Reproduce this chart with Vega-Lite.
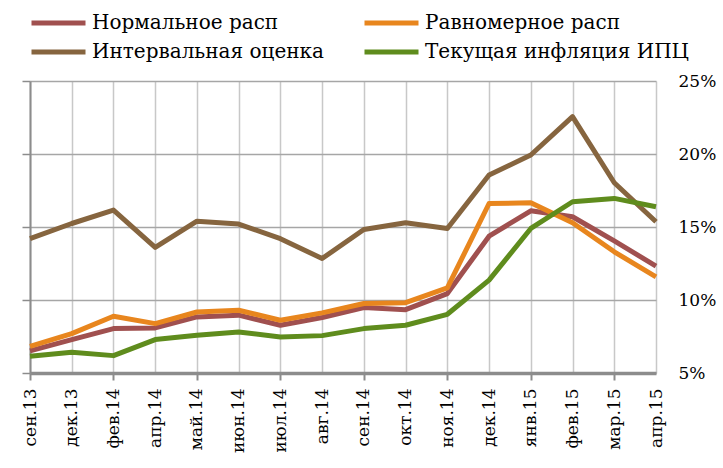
{
  "$schema": "https://vega.github.io/schema/vega-lite/v6.json",
  "width": 626,
  "height": 292,
  "autosize": "none",
  "padding": {"left": 30, "top": 81, "right": 67, "bottom": 95},
  "background": "white",
  "config": {"view": {"stroke": null}, "font": "DejaVu Serif"},
  "data": {"values": [
    {"month": "сен.13", "series": "Нормальное расп", "value": 6.51},
    {"month": "дек.13", "series": "Нормальное расп", "value": 7.29},
    {"month": "фев.14", "series": "Нормальное расп", "value": 8.04},
    {"month": "апр.14", "series": "Нормальное расп", "value": 8.09},
    {"month": "май.14", "series": "Нормальное расп", "value": 8.84},
    {"month": "июн.14", "series": "Нормальное расп", "value": 8.96},
    {"month": "июл.14", "series": "Нормальное расп", "value": 8.27},
    {"month": "авг.14", "series": "Нормальное расп", "value": 8.8},
    {"month": "сен.14", "series": "Нормальное расп", "value": 9.48},
    {"month": "окт.14", "series": "Нормальное расп", "value": 9.34},
    {"month": "ноя.14", "series": "Нормальное расп", "value": 10.44},
    {"month": "дек.14", "series": "Нормальное расп", "value": 14.37},
    {"month": "янв.15", "series": "Нормальное расп", "value": 16.11},
    {"month": "фев.15", "series": "Нормальное расп", "value": 15.7},
    {"month": "мар.15", "series": "Нормальное расп", "value": 14.05},
    {"month": "апр.15", "series": "Нормальное расп", "value": 12.32},
    {"month": "сен.13", "series": "Равномерное расп", "value": 6.83},
    {"month": "дек.13", "series": "Равномерное расп", "value": 7.7},
    {"month": "фев.14", "series": "Равномерное расп", "value": 8.89},
    {"month": "апр.14", "series": "Равномерное расп", "value": 8.38},
    {"month": "май.14", "series": "Равномерное расп", "value": 9.18},
    {"month": "июн.14", "series": "Равномерное расп", "value": 9.3},
    {"month": "июл.14", "series": "Равномерное расп", "value": 8.61},
    {"month": "авг.14", "series": "Равномерное расп", "value": 9.12},
    {"month": "сен.14", "series": "Равномерное расп", "value": 9.76},
    {"month": "окт.14", "series": "Равномерное расп", "value": 9.82},
    {"month": "ноя.14", "series": "Равномерное расп", "value": 10.83},
    {"month": "дек.14", "series": "Равномерное расп", "value": 16.61},
    {"month": "янв.15", "series": "Равномерное расп", "value": 16.66},
    {"month": "фев.15", "series": "Равномерное расп", "value": 15.29},
    {"month": "мар.15", "series": "Равномерное расп", "value": 13.3},
    {"month": "апр.15", "series": "Равномерное расп", "value": 11.58},
    {"month": "сен.13", "series": "Интервальная оценка", "value": 14.2},
    {"month": "дек.13", "series": "Интервальная оценка", "value": 15.24},
    {"month": "фев.14", "series": "Интервальная оценка", "value": 16.16},
    {"month": "апр.14", "series": "Интервальная оценка", "value": 13.6},
    {"month": "май.14", "series": "Интервальная оценка", "value": 15.4},
    {"month": "июн.14", "series": "Интервальная оценка", "value": 15.2},
    {"month": "июл.14", "series": "Интервальная оценка", "value": 14.2},
    {"month": "авг.14", "series": "Интервальная оценка", "value": 12.84},
    {"month": "сен.14", "series": "Интервальная оценка", "value": 14.83},
    {"month": "окт.14", "series": "Интервальная оценка", "value": 15.29},
    {"month": "ноя.14", "series": "Интервальная оценка", "value": 14.9},
    {"month": "дек.14", "series": "Интервальная оценка", "value": 18.56},
    {"month": "янв.15", "series": "Интервальная оценка", "value": 19.93},
    {"month": "фев.15", "series": "Интервальная оценка", "value": 22.56},
    {"month": "мар.15", "series": "Интервальная оценка", "value": 18.03},
    {"month": "апр.15", "series": "Интервальная оценка", "value": 15.36},
    {"month": "сен.13", "series": "Текущая инфляция ИПЦ", "value": 6.14},
    {"month": "дек.13", "series": "Текущая инфляция ИПЦ", "value": 6.42},
    {"month": "фев.14", "series": "Текущая инфляция ИПЦ", "value": 6.19},
    {"month": "апр.14", "series": "Текущая инфляция ИПЦ", "value": 7.29},
    {"month": "май.14", "series": "Текущая инфляция ИПЦ", "value": 7.58},
    {"month": "июн.14", "series": "Текущая инфляция ИПЦ", "value": 7.81},
    {"month": "июл.14", "series": "Текущая инфляция ИПЦ", "value": 7.47},
    {"month": "авг.14", "series": "Текущая инфляция ИПЦ", "value": 7.56},
    {"month": "сен.14", "series": "Текущая инфляция ИПЦ", "value": 8.04},
    {"month": "окт.14", "series": "Текущая инфляция ИПЦ", "value": 8.27},
    {"month": "ноя.14", "series": "Текущая инфляция ИПЦ", "value": 9.02},
    {"month": "дек.14", "series": "Текущая инфляция ИПЦ", "value": 11.36},
    {"month": "янв.15", "series": "Текущая инфляция ИПЦ", "value": 14.9},
    {"month": "фев.15", "series": "Текущая инфляция ИПЦ", "value": 16.73},
    {"month": "мар.15", "series": "Текущая инфляция ИПЦ", "value": 16.96},
    {"month": "апр.15", "series": "Текущая инфляция ИПЦ", "value": 16.39}
  ]},
  "encoding": {
    "x": {
      "field": "month",
      "type": "ordinal",
      "sort": ["сен.13", "дек.13", "фев.14", "апр.14", "май.14", "июн.14", "июл.14", "авг.14", "сен.14", "окт.14", "ноя.14", "дек.14", "янв.15", "фев.15", "мар.15", "апр.15"],
      "scale": {"type": "point", "padding": 0},
      "axis": {
        "title": null,
        "labelAngle": -90,
        "labelFont": "DejaVu Serif",
        "labelFontSize": 17,
        "labelColor": "black",
        "labelPadding": 8,
        "tickSize": 7,
        "tickWidth": 2,
        "tickColor": "#8C8C8C",
        "tickOpacity": {"condition": {"test": "indexof(['сен.13','фев.14','май.14','июл.14','сен.14','ноя.14','янв.15','мар.15'], datum.value) >= 0", "value": 1}, "value": 0},
        "domainColor": "#8C8C8C",
        "domainWidth": 3.5,
        "grid": true,
        "gridColor": "#C8C8C8",
        "gridWidth": 1.5
      }
    }
  },
  "layer": [
    {
      "mark": {"type": "line", "strokeWidth": 5, "strokeJoin": "round"},
      "encoding": {
        "y": {
          "field": "value",
          "type": "quantitative",
          "scale": {"domain": [5, 25], "nice": false, "zero": false},
          "axis": {
            "orient": "left",
            "title": null,
            "labels": false,
            "values": [5, 10, 15, 20, 25],
            "tickSize": 8,
            "tickWidth": 1.5,
            "tickColor": "#8C8C8C",
            "domainColor": "#8C8C8C",
            "domainWidth": 2,
            "grid": true,
            "gridColor": "#A6A6A6",
            "gridWidth": 1.5
          }
        },
        "color": {
          "field": "series",
          "type": "nominal",
          "scale": {
            "domain": ["Нормальное расп", "Интервальная оценка", "Равномерное расп", "Текущая инфляция ИПЦ"],
            "range": ["#A0504F", "#86653F", "#E8861E", "#5F8C1D"]
          },
          "legend": {
            "title": null,
            "orient": "none",
            "legendX": -1,
            "legendY": -68,
            "columns": 2,
            "symbolType": "stroke",
            "symbolSize": 2916,
            "symbolStrokeWidth": 5,
            "clipHeight": 20,
            "labelFont": "DejaVu Serif",
            "labelFontSize": 20,
            "labelColor": "black",
            "labelOffset": 4,
            "labelLimit": 400,
            "rowPadding": 9,
            "columnPadding": 38,
            "padding": 0
          }
        }
      }
    },
    {
      "mark": {"type": "point", "opacity": 0},
      "encoding": {
        "y": {
          "field": "value",
          "type": "quantitative",
          "scale": {"domain": [5, 25], "nice": false, "zero": false},
          "axis": {
            "orient": "right",
            "title": null,
            "ticks": false,
            "domain": false,
            "grid": false,
            "values": [5, 10, 15, 20, 25],
            "labelExpr": "datum.value + '%'",
            "labelFont": "DejaVu Serif",
            "labelFontSize": 17,
            "labelColor": "black",
            "labelPadding": 22
          }
        }
      }
    }
  ],
  "resolve": {"axis": {"y": "independent"}}
}
